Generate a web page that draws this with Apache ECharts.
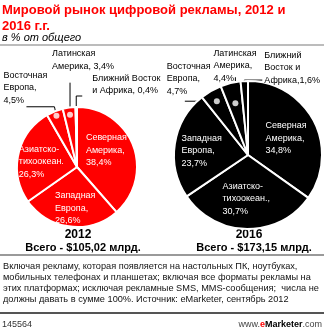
<!DOCTYPE html>
<html><head><meta charset="utf-8">
<script src="https://cdn.jsdelivr.net/npm/echarts@6/dist/echarts.min.js"></script>
<style>html,body{margin:0;padding:0;background:#fff}#c{width:324px;height:331px}</style>
</head><body><div id="c"></div>
<script>
// ---- data ----
const titleText = 'Мировой рынок цифровой рекламы, 2012 и\n2016 г.г.';
const subtitleText = 'в % от общего';
const years = ['2012', '2016'];
const totals = ['Всего - $105,02 млрд.', 'Всего - $173,15 млрд.'];
const regions2012 = ['Северная Америка', 'Западная Европа', 'Азиатско-тихоокеан.', 'Восточная Европа', 'Латинская Америка', 'Ближний Восток и Африка'];
const values2012 = [38.4, 26.6, 26.3, 4.5, 3.4, 0.4];
const labels2012 = ['Северная\nАмерика,\n{v}', 'Западная\nЕвропа,\n{v}', 'Азиатско-\nтихоокеан.\n{v}', 'Восточная\nЕвропа,\n{v}', 'Латинская\nАмерика, {v}', 'Ближний Восток\nи Африка, {v}'];
const regions2016 = ['Северная Америка', 'Азиатско-тихоокеан.', 'Западная Европа', 'Восточная Европа', 'Латинская Америка', 'Ближний Восток и Африка'];
const values2016 = [34.8, 30.7, 23.7, 4.7, 4.4, 1.6];
const labels2016 = ['Северная\nАмерика,\n{v}', 'Азиатско-\nтихоокеан.,\n{v}', 'Западная\nЕвропа,\n{v}', 'Восточная\nЕвропа,\n{v}', 'Латинская\nАмерика,\n{v}', 'Ближний\nВосток и\nАфрика,{v}'];
const noteLines = [
  'Включая рекламу, которая появляется на настольных ПК, ноутбуках,',
  'мобильных телефонах и планшетах; включая все форматы рекламы на',
  'этих платформах; исключая рекламные SMS, MMS-сообщения;  числа не',
  'должны давать в сумме 100%. Источник: eMarketer, сентябрь 2012'
];
const chartId = '145564';

// ---- layout / style ----
const FONT = "'Liberation Sans', Arial, sans-serif";
const SMALL = 5;
const PIES = [
  {cx: 77, cy: 167, r: 60, color: '#ff0000'},
  {cx: 248, cy: 155, r: 74, color: '#000000'}
];
const ADJ = [
  [ {dx: -22, dy: -24}, {dx: -18, dy: -10}, {dx: -26, dy: -17},
    {k: 0.92, ax: -2, ay: -9, run: -28, lx: -23, ly: -38, grad: ['y', 0.5]},
    {k: 0.88, ax: 0, ay: -32, run: 0, lx: -18, ly: -35, grad: ['y', 0.77]},
    {k: 1, ax: 0, ay: -11, run: 6, lx: 10, ly: -24} ],
  [ {dx: -18, dy: -17}, {dx: -25, dy: -15}, {dx: -27, dy: -17},
    {k: 0.84, ax: 0, ay: 0, run: -32, lx: -18, ly: -41, grad: ['x', 0.39]},
    {k: 0.72, ax: 0, ay: -26, run: 0, lx: -22, ly: -30, grad: ['y', 0.19]},
    {k: 1, ax: 0, ay: -1, run: 18, lx: 2, ly: -31} ]
];
const fmt = v => v.toFixed(1).replace('.', ',') + '%';

function gradient(g) {
  const f = g[1];
  const stops = [{offset: 0, color: '#000'}, {offset: f, color: '#000'}, {offset: f, color: '#fff'}, {offset: 1, color: '#fff'}];
  return g[0] === 'y'
    ? {type: 'linear', x: 0, y: 0, x2: 0, y2: 1, colorStops: stops}
    : {type: 'linear', x: 0, y: 0, x2: 1, y2: 0, colorStops: stops};
}

function makeLayout(i) {
  const p = PIES[i];
  return function (params) {
    const a = ADJ[i][params.dataIndex];
    if (a.k == null) {
      const r = params.labelRect;
      return {x: r.x + r.width / 2 + a.dx, y: r.y + r.height / 2 + a.dy, align: 'left', verticalAlign: 'top'};
    }
    const p0 = params.labelLinePoints[0];
    const sx = p.cx + (p0[0] - p.cx) * a.k, sy = p.cy + (p0[1] - p.cy) * a.k;
    const x1 = sx + a.ax, y1 = sy + a.ay, x2 = x1 + a.run;
    return {x: x2 + a.lx, y: y1 + a.ly, align: 'left', verticalAlign: 'top',
      labelLinePoints: [[sx, sy], [x1, y1], [x2, y1]]};
  };
}

function pieSeries(i, names, values, texts) {
  const p = PIES[i];
  const data = names.map((n, j) => {
    const small = values[j] < SMALL;
    const a = ADJ[i][j];
    return {
      name: n, value: values[j],
      label: {position: small ? 'outside' : 'inside', color: small ? '#000' : '#fff',
        formatter: texts[j].replace('{v}', fmt(values[j]))},
      labelLine: {show: small, lineStyle: {color: a.grad ? gradient(a.grad) : '#000', width: 1}}
    };
  });
  return {
    type: 'pie', center: [p.cx, p.cy], radius: [0, p.r], startAngle: 90, clockwise: true,
    avoidLabelOverlap: false, silent: true, animation: false, emphasis: {scale: false},
    itemStyle: {color: p.color, borderColor: '#fff', borderWidth: 2},
    label: {fontFamily: FONT, fontSize: 9, lineHeight: 12.5},
    labelLine: {length: 5, length2: 5, smooth: false},
    labelLayout: makeLayout(i),
    data
  };
}

function dotSeries(i, values) {
  const data = [];
  let cum = 0;
  values.forEach((v, j) => {
    const a = ADJ[i][j];
    if (v < SMALL && a.k < 1) data.push([a.k, cum + v / 2]);
    cum += v;
  });
  return {type: 'scatter', coordinateSystem: 'polar', polarIndex: i, symbol: 'circle', symbolSize: 6,
    itemStyle: {color: '#fff'}, z: 5, silent: true, animation: false, data};
}

const sum = arr => arr.reduce((a, b) => a + b, 0);
const allValues = [values2012, values2016];

const graphic = [
  {type: 'text', x: 2, y: 2, style: {text: titleText, font: 'bold 13px ' + FONT, fill: '#ff0000', lineHeight: 16}},
  {type: 'text', x: 2, y: 32, style: {text: subtitleText, font: 'italic 11px ' + FONT, fill: '#000'}},
  {type: 'rect', shape: {x: 0, y: 44, width: 324, height: 2}, style: {fill: '#bcbcbc'}},
  {type: 'rect', shape: {x: 0, y: 254, width: 324, height: 2}, style: {fill: '#9a9a9a'}},
  {type: 'rect', shape: {x: 0, y: 312, width: 324, height: 2}, style: {fill: '#555'}},
  {type: 'text', x: 2, y: 320, style: {text: chartId, font: '9px ' + FONT, fill: '#333'}},
  {type: 'text', x: 322, y: 320, style: {
    text: '{a|www.}{b|e}{c|Marketer}{a|.com}', align: 'right',
    rich: {a: {font: '9px ' + FONT, fill: '#444'}, b: {font: 'bold 9px ' + FONT, fill: '#ff0000'}, c: {font: 'bold 9px ' + FONT, fill: '#000'}}
  }}
];
years.forEach((y, i) => {
  graphic.push({type: 'text', x: PIES[i].cx + 1, y: 235, style: {text: y, font: 'bold 12px ' + FONT, fill: '#000', align: 'center', verticalAlign: 'middle'}});
  graphic.push({type: 'text', x: PIES[i].cx + 6, y: 248, style: {text: totals[i], font: 'bold 11px ' + FONT, fill: '#000', align: 'center', verticalAlign: 'middle'}});
});
noteLines.forEach((t, k) => {
  graphic.push({type: 'text', x: 3, y: 266 + k * 11, style: {text: t, font: '9.2px ' + FONT, fill: '#111', verticalAlign: 'middle'}});
});

const chart = echarts.init(document.getElementById('c'), null, {renderer: 'canvas'});
chart.setOption({
  animation: false,
  polar: PIES.map(p => ({center: [p.cx, p.cy], radius: p.r})),
  angleAxis: PIES.map((p, i) => ({polarIndex: i, type: 'value', min: 0, max: sum(allValues[i]), startAngle: 90, clockwise: true, show: false})),
  radiusAxis: PIES.map((p, i) => ({polarIndex: i, type: 'value', min: 0, max: 1, show: false})),
  series: [
    pieSeries(0, regions2012, values2012, labels2012),
    pieSeries(1, regions2016, values2016, labels2016),
    dotSeries(0, values2012),
    dotSeries(1, values2016)
  ],
  graphic
});
</script></body></html>
